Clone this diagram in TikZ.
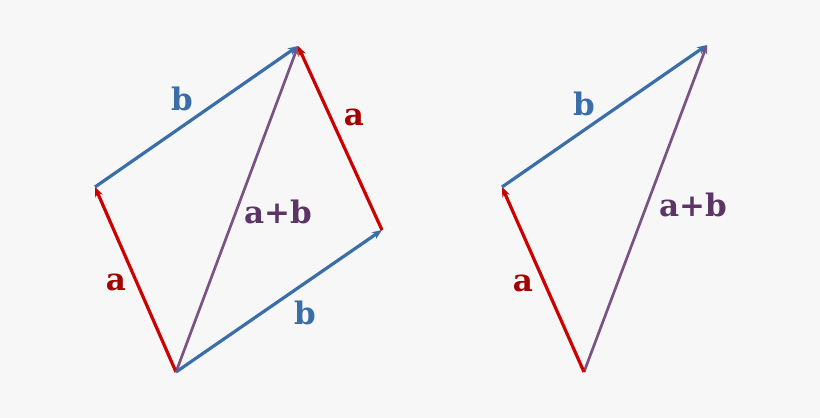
\documentclass[tikz,border=0pt]{standalone}
\usepackage{fontspec}
\setmainfont{DejaVu Serif}
\usetikzlibrary{arrows.meta}
\definecolor{bg}{HTML}{F7F7F7}
\definecolor{redline}{HTML}{CC0000}
\definecolor{redtext}{HTML}{A40000}
\definecolor{blueline}{HTML}{3A6EA8}
\definecolor{bluetext}{HTML}{3A6EA8}
\definecolor{purpline}{HTML}{7A5284}
\definecolor{purptext}{HTML}{5C3566}
\tikzset{
  vecA/.style={draw=redline,line width=3.2pt,-{Stealth[length=10pt,width=8pt]}},
  vecB/.style={draw=blueline,line width=3.2pt,-{Stealth[length=10pt,width=8pt]}},
  vecS/.style={draw=purpline,line width=2.7pt,-{Stealth[length=9pt,width=7pt]}},
  lab/.style={font=\fontsize{31}{36}\selectfont\bfseries,inner sep=0pt},
}
\begin{document}
\begin{tikzpicture}[x=1pt,y=-1pt]
\fill[bg] (0,0) rectangle (820,418);
\useasboundingbox (0,0) rectangle (820,418);
% left parallelogram
\coordinate (O) at (176,372);
\coordinate (A) at (95,187);
\coordinate (S) at (298,46);
\coordinate (B) at (382,230);
\draw[vecS] (O) -- (S);
\draw[vecA] (O) -- (A);
\draw[vecB] (A) -- (S);
\draw[vecB] (O) -- (B);
\draw[vecA] (B) -- (S);
\node[lab,text=bluetext] (lb1) at (182,99) {b};
\node[lab,text=redtext] (la1) at (354,117) {a};
\node[lab,text=purptext] (ls1) at (278,212) {a+b};
\node[lab,text=redtext] (la2) at (116,282) {a};
\node[lab,text=bluetext] (lb2) at (305,313) {b};
% right triangle
\coordinate (O2) at (584,372);
\coordinate (A2) at (502,187);
\coordinate (S2) at (707,45);
\draw[vecS] (O2) -- (S2);
\draw[vecA] (O2) -- (A2);
\draw[vecB] (A2) -- (S2);
\node[lab,text=bluetext] (lb3) at (584,104) {b};
\node[lab,text=purptext] (ls2) at (693,205) {a+b};
\node[lab,text=redtext] (la3) at (523,283) {a};
\end{tikzpicture}
\end{document}
